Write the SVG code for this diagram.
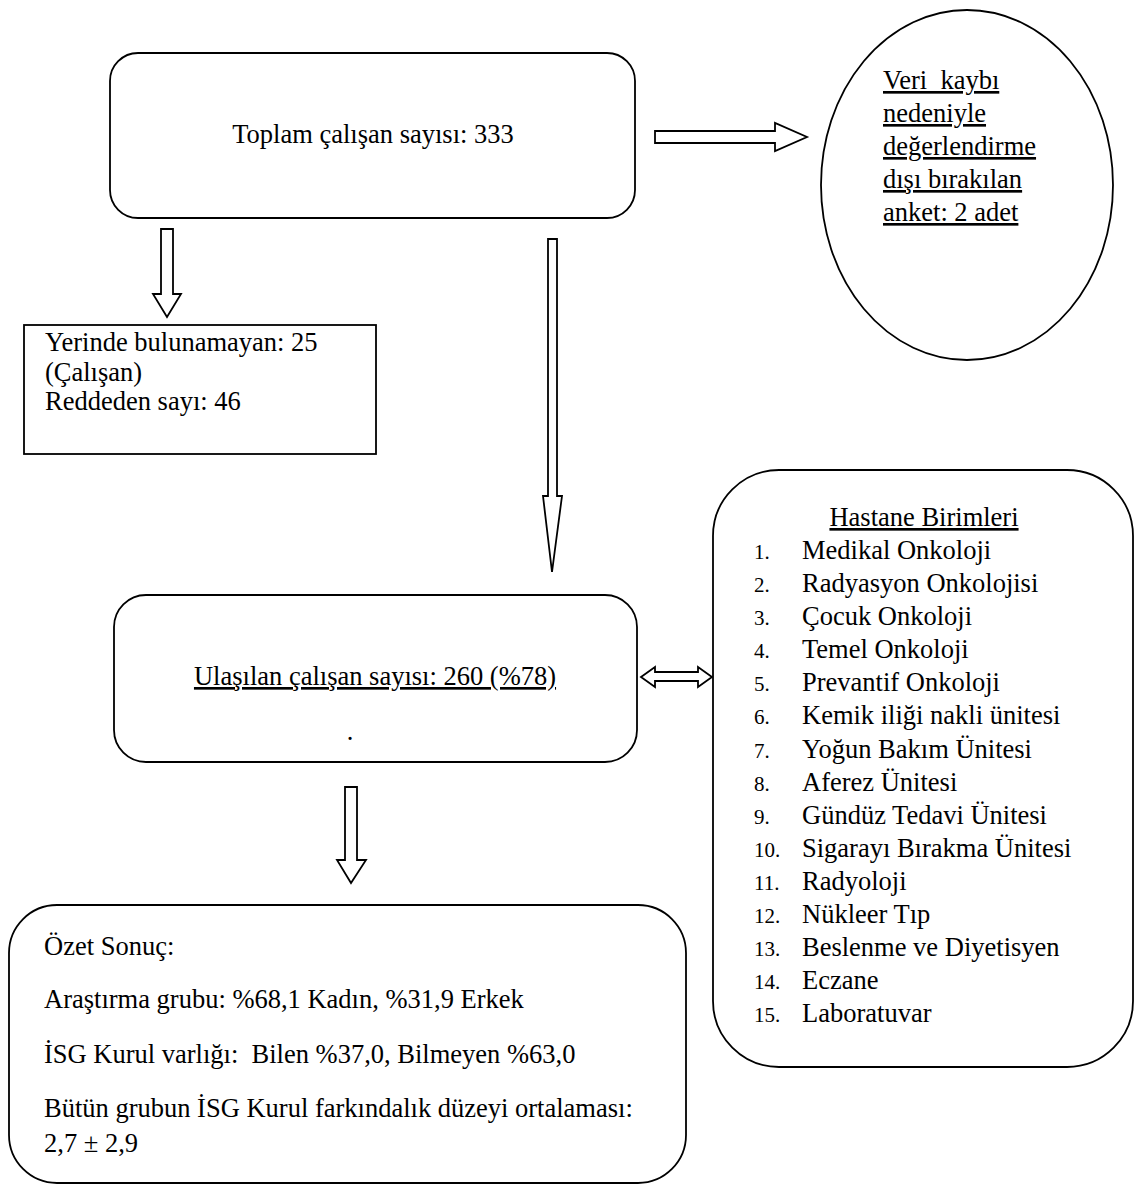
<svg xmlns="http://www.w3.org/2000/svg" width="1135" height="1189" viewBox="0 0 1135 1189">
<style>
.box{fill:#fff;stroke:#000;stroke-width:1.8}
.arr{fill:#fff;stroke:#000;stroke-width:1.8;stroke-linejoin:miter}
text{font-family:"Liberation Serif","Times New Roman",serif;font-size:26.5px;fill:#000}
.u{text-decoration:underline}
.num{font-size:21px}
</style>
<rect width="1135" height="1189" fill="#fff"/>
<g id="connectors">
<polygon class="arr" points="655,131 775,131 775,123 807,137 775,151 775,143 655,143"/>
<polygon class="arr" points="161,229 173,229 173,294 181,294 167,317 153,294 161,294"/>
<polygon class="arr" points="548,239 557,239 557,496 562,496 552,572 543,496 548,496"/>
<polygon class="arr" points="641,677 655,667 655,672 698,672 698,667 712,677 698,687 698,681 655,681 655,687"/>
<polygon class="arr" points="345,787 357,787 357,860 366,860 351,883 337,860 345,860"/>
</g>
<g id="toplam">
<rect class="box" x="110" y="53" width="525" height="165" rx="28"/>
<text x="373" y="143" text-anchor="middle">Toplam çalışan sayısı: 333</text>
</g>
<g id="veri-kaybi">
<ellipse class="box" cx="967" cy="185" rx="146" ry="175"/>
<text class="u" x="883" y="89" xml:space="preserve">Veri  kaybı</text>
<text class="u" x="883" y="122">nedeniyle</text>
<text class="u" x="883" y="155">değerlendirme</text>
<text class="u" x="883" y="188">dışı bırakılan</text>
<text class="u" x="883" y="221">anket: 2 adet</text>
</g>
<g id="yerinde">
<rect class="box" x="24" y="325" width="352" height="129"/>
<text x="45" y="351">Yerinde bulunamayan: 25</text>
<text x="45" y="381">(Çalışan)</text>
<text x="45" y="410">Reddeden sayı: 46</text>
</g>
<g id="ulasilan">
<rect class="box" x="114" y="595" width="523" height="167" rx="32"/>
<text class="u" x="375" y="685" text-anchor="middle">Ulaşılan çalışan sayısı: 260 (%78)</text>
<text x="350" y="740" text-anchor="middle">.</text>
</g>
<g id="hastane">
<rect class="box" x="713" y="470" width="420" height="597" rx="66"/>
<text class="u" x="924" y="526" text-anchor="middle">Hastane Birimleri</text>
<text class="num" x="754" y="559">1.</text><text x="802" y="559">Medikal Onkoloji</text>
<text class="num" x="754" y="592">2.</text><text x="802" y="592">Radyasyon Onkolojisi</text>
<text class="num" x="754" y="625">3.</text><text x="802" y="625">Çocuk Onkoloji</text>
<text class="num" x="754" y="658">4.</text><text x="802" y="658">Temel Onkoloji</text>
<text class="num" x="754" y="691">5.</text><text x="802" y="691">Prevantif Onkoloji</text>
<text class="num" x="754" y="724">6.</text><text x="802" y="724">Kemik iliği nakli ünitesi</text>
<text class="num" x="754" y="758">7.</text><text x="802" y="758">Yoğun Bakım Ünitesi</text>
<text class="num" x="754" y="791">8.</text><text x="802" y="791">Aferez Ünitesi</text>
<text class="num" x="754" y="824">9.</text><text x="802" y="824">Gündüz Tedavi Ünitesi</text>
<text class="num" x="754" y="857">10.</text><text x="802" y="857">Sigarayı Bırakma Ünitesi</text>
<text class="num" x="754" y="890">11.</text><text x="802" y="890">Radyoloji</text>
<text class="num" x="754" y="923">12.</text><text x="802" y="923">Nükleer Tıp</text>
<text class="num" x="754" y="956">13.</text><text x="802" y="956">Beslenme ve Diyetisyen</text>
<text class="num" x="754" y="989">14.</text><text x="802" y="989">Eczane</text>
<text class="num" x="754" y="1022">15.</text><text x="802" y="1022">Laboratuvar</text>
</g>
<g id="ozet">
<rect class="box" x="9" y="905" width="677" height="278" rx="48"/>
<text x="44" y="955">Özet Sonuç:</text>
<text x="44" y="1008">Araştırma grubu: %68,1 Kadın, %31,9 Erkek</text>
<text x="44" y="1063" xml:space="preserve">İSG Kurul varlığı:  Bilen %37,0, Bilmeyen %63,0</text>
<text x="44" y="1117">Bütün grubun İSG Kurul farkındalık düzeyi ortalaması:</text>
<text x="44" y="1152">2,7 ± 2,9</text>
</g>
</svg>
